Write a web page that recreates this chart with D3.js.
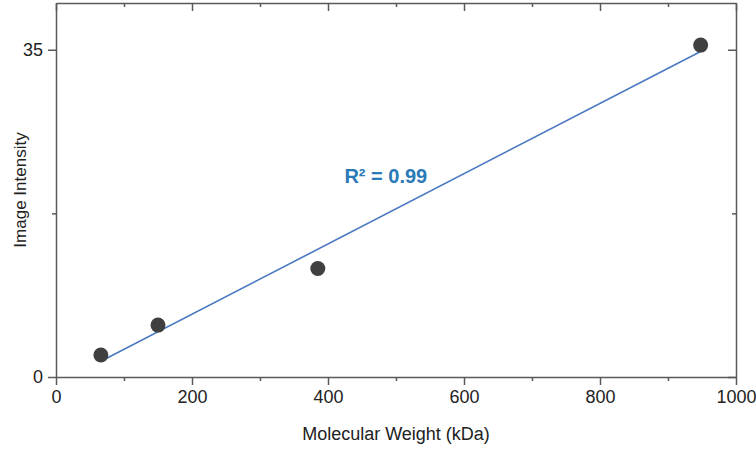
<!DOCTYPE html>
<html>
<head>
<meta charset="utf-8">
<script src="https://cdn.jsdelivr.net/npm/d3@7"></script>
<style>
  body { margin: 0; background: #fff; }
  .axis path, .axis line { stroke: #595959; stroke-width: 1.5; }
  .axis text { font-family: "Liberation Sans", Arial, sans-serif; font-size: 18px; fill: #222; }
  .axisText { font-family: "Liberation Sans", Arial, sans-serif; font-size: 17px; fill: #222; }
</style>
</head>
<body>
<div id="scatter"></div>
<script>
// data
var molWeight = [66, 150, 385, 948];
var intensity = [2.35, 5.55, 11.6, 35.5];
var xTicks = [0, 200, 400, 600, 800, 1000];
var xMinorTicks = [100, 300, 500, 700, 900];
var yTicks = [0, 35];
var yMinorTicks = [17.5];
var fitLabel = "R² = 0.99";

var svgWidth = 756;
var svgHeight = 450;

var margin = {
  top: 3,
  right: 20,
  bottom: 73,
  left: 56
};

var width = svgWidth - margin.left - margin.right;
var height = svgHeight - margin.top - margin.bottom;

var svg = d3.select("#scatter")
  .append("svg")
  .attr("width", svgWidth)
  .attr("height", svgHeight);

var chartGroup = svg.append("g")
  .attr("transform", `translate(${margin.left}, ${margin.top})`);

var points = molWeight.map((d, i) => ({ x: d, y: intensity[i] }));

// scales
var xScale = d3.scaleLinear().domain([0, 1000]).range([0, width]);
var yScale = d3.scaleLinear().domain([0, 40]).range([height, 0]);

// axes, major + minor ticks
function addAxis(axisFn, scale, vals, size, labels, transform) {
  var g = chartGroup.append("g")
    .attr("class", "axis")
    .attr("transform", transform)
    .call(axisFn(scale).tickValues(vals).tickSize(size).tickSizeOuter(0)
      .tickPadding(5).tickFormat(labels ? d3.format("d") : ""));
  return g;
}

addAxis(d3.axisBottom, xScale, xTicks, 8, true, `translate(0,${height})`);
addAxis(d3.axisBottom, xScale, xMinorTicks, 4, false, `translate(0,${height})`)
  .select(".domain").remove();
addAxis(d3.axisLeft, yScale, yTicks, 8, true, "");
addAxis(d3.axisLeft, yScale, yMinorTicks, 4, false, "")
  .select(".domain").remove();

// top and right frame, ticks pointing in
addAxis(d3.axisTop, xScale, xTicks, -8, false, "");
addAxis(d3.axisTop, xScale, xMinorTicks, -4, false, "").select(".domain").remove();
addAxis(d3.axisRight, yScale, yTicks, -8, false, `translate(${width},0)`);
addAxis(d3.axisRight, yScale, yMinorTicks, -4, false, `translate(${width},0)`)
  .select(".domain").remove();

chartGroup.selectAll(".axis").attr("font-family", null).attr("font-size", null);

// least squares fit line
var mx = d3.mean(points, d => d.x);
var my = d3.mean(points, d => d.y);
var slope = d3.sum(points, d => (d.x - mx) * (d.y - my)) / d3.sum(points, d => (d.x - mx) * (d.x - mx));
var intercept = my - slope * mx;
var xExt = d3.extent(molWeight);

chartGroup.append("line")
  .attr("x1", xScale(xExt[0]))
  .attr("y1", yScale(slope * xExt[0] + intercept))
  .attr("x2", xScale(xExt[1]))
  .attr("y2", yScale(slope * xExt[1] + intercept))
  .attr("stroke", "#4a78c2")
  .attr("stroke-width", 1.6);

chartGroup.selectAll("circle")
  .data(points)
  .enter()
  .append("circle")
  .attr("cx", d => xScale(d.x))
  .attr("cy", d => yScale(d.y))
  .attr("r", 7.5)
  .attr("fill", "#404040");

chartGroup.append("text")
  .attr("x", xScale(485))
  .attr("y", yScale(20.8))
  .attr("text-anchor", "middle")
  .attr("font-family", "Liberation Sans, Arial, sans-serif")
  .attr("font-weight", "bold")
  .attr("font-size", "20px")
  .attr("fill", "#2a7ab8")
  .text(fitLabel);

// axis labels
chartGroup.append("text")
  .attr("transform", "rotate(-90)")
  .attr("y", 0 - margin.left + 26)
  .attr("x", 0 - 187)
  .attr("text-anchor", "middle")
  .attr("class", "axisText")
  .text("Image Intensity");

chartGroup.append("text")
  .attr("transform", `translate(${width / 2}, ${height + 63})`)
  .attr("text-anchor", "middle")
  .attr("class", "axisText")
  .style("font-size", "18px")
  .text("Molecular Weight (kDa)");
</script>
</body>
</html>
